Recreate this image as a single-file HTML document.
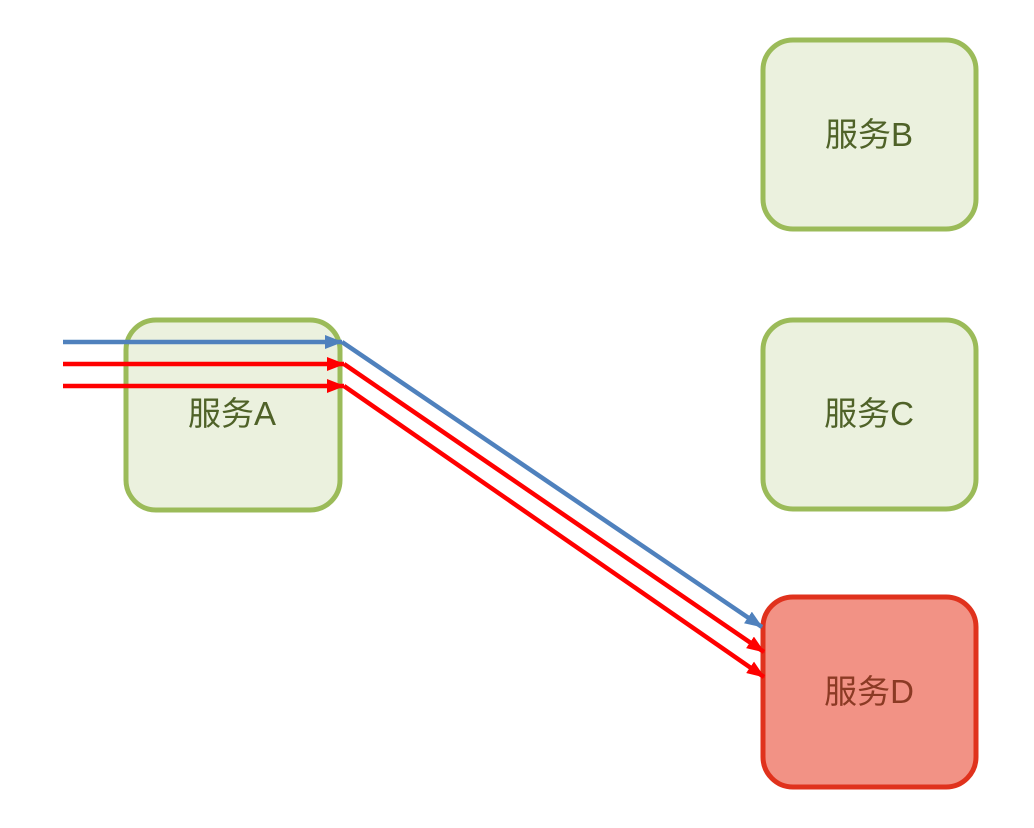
<!DOCTYPE html>
<html><head><meta charset="utf-8"><style>
html,body{margin:0;padding:0;background:#fff;}
svg{display:block;}
text{font-family:"Liberation Sans","Noto Sans CJK SC",sans-serif;font-size:33px;text-anchor:middle;}
</style></head><body>
<svg width="1034" height="828" viewBox="0 0 1034 828">
<defs>
<marker id="hb" markerWidth="18" markerHeight="14" refX="17" refY="7" orient="auto" markerUnits="userSpaceOnUse"><path d="M0,0 L18,7 L0,14 Z" fill="#4f81bd"/></marker>
<marker id="hr" markerWidth="18" markerHeight="14" refX="17" refY="7" orient="auto" markerUnits="userSpaceOnUse"><path d="M0,0 L18,7 L0,14 Z" fill="#ff0000"/></marker>
</defs>
<rect x="126" y="320" width="214" height="190" rx="30" fill="#ebf1de" stroke="#9bbb59" stroke-width="5"/>
<rect x="763" y="40" width="213" height="189" rx="30" fill="#ebf1de" stroke="#9bbb59" stroke-width="5"/>
<rect x="763" y="320" width="213" height="189" rx="30" fill="#ebf1de" stroke="#9bbb59" stroke-width="5"/>
<rect x="763" y="597" width="213" height="190" rx="30" fill="#f29285" stroke="#e0321d" stroke-width="5"/>
<text x="232" y="425" fill="#4f6228">服务A</text>
<text x="869" y="146" fill="#4f6228">服务B</text>
<text x="869" y="425" fill="#4f6228">服务C</text>
<text x="869" y="703" fill="#8b3a24">服务D</text>
<g fill="none" stroke-width="4.5">
<line x1="63" y1="342" x2="342" y2="342" stroke="#4f81bd" marker-end="url(#hb)"/>
<line x1="342" y1="342" x2="762" y2="627" stroke="#4f81bd" marker-end="url(#hb)"/>
<line x1="63" y1="364" x2="344" y2="364" stroke="#ff0000" marker-end="url(#hr)"/>
<line x1="344" y1="364" x2="764" y2="652" stroke="#ff0000" marker-end="url(#hr)"/>
<line x1="63" y1="386" x2="344" y2="386" stroke="#ff0000" marker-end="url(#hr)"/>
<line x1="344" y1="386" x2="764" y2="677" stroke="#ff0000" marker-end="url(#hr)"/>
</g>
</svg>
</body></html>
